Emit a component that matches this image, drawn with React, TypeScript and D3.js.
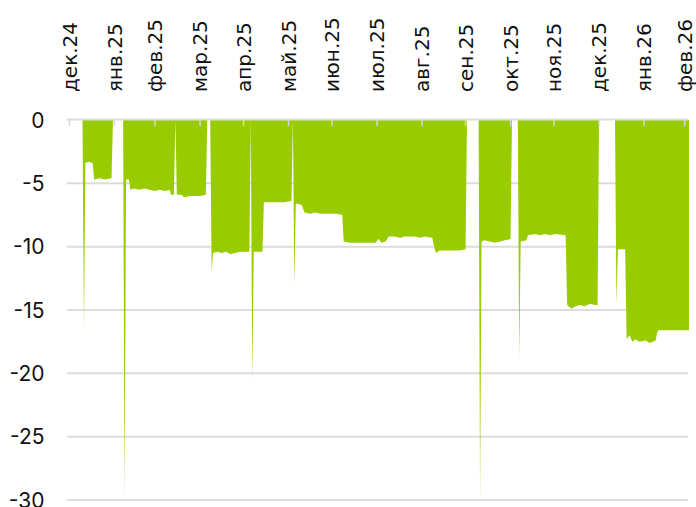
import React, { useRef, useEffect } from 'react'
import * as d3 from 'd3'

// drawdown, % (negative = below previous peak)
const dates = [
  '2024-12-30', '2025-01-09', '2025-01-10', '2025-01-11', '2025-01-13', '2025-01-16', '2025-01-17', '2025-01-21',
  '2025-01-24', '2025-01-29', '2025-01-30', '2025-02-06', '2025-02-07', '2025-02-08', '2025-02-10', '2025-02-11',
  '2025-02-14', '2025-02-17', '2025-02-21', '2025-02-24', '2025-02-28', '2025-03-03', '2025-03-07', '2025-03-10',
  '2025-03-11', '2025-03-13', '2025-03-14', '2025-03-15', '2025-03-18', '2025-03-20', '2025-03-24', '2025-03-28',
  '2025-03-31', '2025-04-04', '2025-04-05', '2025-04-07', '2025-04-08', '2025-04-09', '2025-04-12', '2025-04-15',
  '2025-04-18', '2025-04-21', '2025-04-24', '2025-04-28', '2025-05-01', '2025-05-04', '2025-05-05', '2025-05-06',
  '2025-05-07', '2025-05-13', '2025-05-14', '2025-05-18', '2025-05-21', '2025-05-25', '2025-05-28', '2025-06-02',
  '2025-06-03', '2025-06-04', '2025-06-05', '2025-06-09', '2025-06-11', '2025-06-15', '2025-06-18', '2025-06-22',
  '2025-06-25', '2025-06-29', '2025-07-03', '2025-07-07', '2025-07-08', '2025-07-12', '2025-07-16', '2025-07-19',
  '2025-07-23', '2025-07-26', '2025-07-30', '2025-08-01', '2025-08-03', '2025-08-06', '2025-08-08', '2025-08-12',
  '2025-08-16', '2025-08-19', '2025-08-23', '2025-08-26', '2025-08-30', '2025-09-02', '2025-09-07', '2025-09-09',
  '2025-09-10', '2025-09-12', '2025-09-16', '2025-09-19', '2025-09-23', '2025-09-26', '2025-09-30', '2025-10-01',
  '2025-10-09', '2025-10-10', '2025-10-11', '2025-10-13', '2025-10-17', '2025-10-20', '2025-10-24', '2025-10-27',
  '2025-10-31', '2025-11-01', '2025-11-05', '2025-11-06', '2025-11-07', '2025-11-11', '2025-11-12', '2025-11-17',
  '2025-11-20', '2025-11-24', '2025-11-27', '2025-12-01', '2025-12-08', '2025-12-09', '2025-12-12', '2025-12-15',
  '2025-12-18', '2025-12-21', '2025-12-25', '2025-12-28', '2025-12-30', '2025-12-31', '2026-01-11', '2026-01-12',
  '2026-01-13', '2026-01-18', '2026-01-19', '2026-01-21', '2026-01-23', '2026-01-25', '2026-01-28', '2026-02-01',
  '2026-02-04', '2026-02-08', '2026-02-09', '2026-02-10', '2026-03-03',
]

const values = [
  0, 0, -16.5, -3.4, -3.3, -3.4, -4.7, -4.6,
  -4.7, -4.6, 0, 0, -30, -4.7, -4.7, -5.5,
  -5.4, -5.5, -5.4, -5.5, -5.6, -5.5, -5.6, -5.5,
  -5.9, -5.9, 0, -5.9, -5.9, -6.1, -6.0, -6.0,
  -6.0, -5.9, 0, 0, -12, -10.5, -10.4, -10.5,
  -10.4, -10.6, -10.5, -10.4, -10.4, -10.4, 0, -20.7,
  -10.4, -10.4, -6.5, -6.5, -6.5, -6.5, -6.5, -6.4,
  0, -13, -6.6, -6.7, -7.3, -7.4, -7.3, -7.4,
  -7.4, -7.4, -7.4, -7.5, -9.6, -9.7, -9.7, -9.7,
  -9.7, -9.7, -9.7, -9.4, -9.7, -9.6, -9.2, -9.2,
  -9.3, -9.2, -9.2, -9.2, -9.3, -9.2, -9.3, -10.3,
  -10.5, -10.3, -10.3, -10.3, -10.3, -10.3, -10.2, 0,
  0, -30, -9.6, -9.5, -9.6, -9.7, -9.6, -9.5,
  -9.4, 0, 0, -18.8, -9.6, -9.5, -9.1, -9.0,
  -9.1, -9.0, -9.1, -9.0, -9.1, -14.6, -14.9, -14.7,
  -14.6, -14.7, -14.5, -14.6, -14.6, 0, 0, -14.6,
  -10.2, -10.2, -17.3, -17.0, -17.5, -17.3, -17.5, -17.4,
  -17.6, -17.4, -16.8, -16.6, -16.6,
]

const tickDates = [
  '2024-12-31', '2025-01-31', '2025-02-28', '2025-03-31', '2025-04-30', '2025-05-31', '2025-06-30', '2025-07-31',
  '2025-08-31', '2025-09-30', '2025-10-31', '2025-11-30', '2025-12-31', '2026-01-31', '2026-02-28',
]
const tickLabels = [
  'дек.24', 'янв.25', 'фев.25', 'мар.25', 'апр.25', 'май.25', 'июн.25', 'июл.25',
  'авг.25', 'сен.25', 'окт.25', 'ноя.25', 'дек.25', 'янв.26', 'фев.26',
]
const yTicks = [0, -5, -10, -15, -20, -25, -30]

export default function App() {
  const svgRef = useRef<SVGSVGElement>(null)

  useEffect(() => {
    if (!svgRef.current) return
    const svg = d3.select(svgRef.current)
    svg.selectAll('*').remove()

    const parse = d3.timeParse('%Y-%m-%d')
    const data = dates.map((d, i) => ({ date: parse(d)!, value: values[i] }))

    const x = d3.scaleTime()
      .domain([parse('2024-12-30')!, parse('2026-03-03')!])
      .range([68, 689])
    const y = d3.scaleLinear().domain([0, -30]).range([120, 500])

    // Grid
    svg.append('g')
      .selectAll('line')
      .data(yTicks.filter(t => t !== 0))
      .join('line')
      .attr('x1', 67).attr('x2', 688)
      .attr('y1', d => y(d)).attr('y2', d => y(d))
      .attr('stroke', '#dcdcdc').attr('stroke-width', 2)

    // Drawdown area
    const area = d3.area<{ date: Date; value: number }>()
      .x(d => x(d.date))
      .y0(y(0))
      .y1(d => y(d.value))
    svg.append('path')
      .datum(data)
      .attr('d', area)
      .attr('fill', '#99cc00')

    // Zero line + month ticks
    svg.append('line')
      .attr('x1', 67).attr('x2', 688)
      .attr('y1', y(0) - 0.5).attr('y2', y(0) - 0.5)
      .attr('stroke', '#dcdcdc').attr('stroke-width', 2)

    const tds = tickDates.map(d => parse(d)!)
    svg.append('g')
      .selectAll('line')
      .data(tds)
      .join('line')
      .attr('x1', d => x(d)).attr('x2', d => x(d))
      .attr('y1', y(0)).attr('y2', y(0) + 6)
      .attr('stroke', '#d6d6d6').attr('stroke-width', 1.5)

    // X labels (rotated)
    svg.append('g')
      .selectAll('text')
      .data(tds)
      .join('text')
      .attr('transform', d => `translate(${x(d)},92) rotate(-90)`)
      .attr('dy', '0.36em')
      .attr('text-anchor', 'start')
      .attr('font-family', '"DejaVu Sans", sans-serif')
      .attr('font-size', 20)
      .attr('fill', '#111')
      .text((_, i) => tickLabels[i])

    // Y labels
    svg.append('g')
      .selectAll('text')
      .data(yTicks)
      .join('text')
      .attr('x', 44.5)
      .attr('y', d => y(d))
      .attr('dy', '0.36em')
      .attr('text-anchor', 'end')
      .attr('font-family', 'Inter, sans-serif')
      .attr('font-size', 21)
      .attr('fill', '#111')
      .text(d => String(d))
  }, [])

  return (
    <svg
      ref={svgRef}
      width={696}
      height={507}
      style={{ position: 'absolute', left: 0, top: 0, background: '#fff' }}
    />
  )
}
